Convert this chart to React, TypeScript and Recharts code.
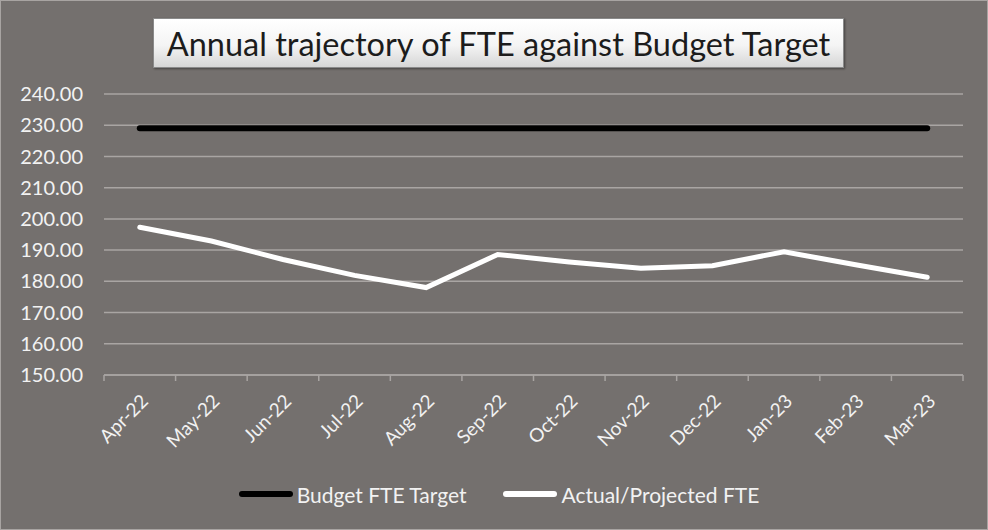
import { LineChart, Line, XAxis, YAxis, CartesianGrid, Legend } from 'recharts';

const months = ['Apr-22', 'May-22', 'Jun-22', 'Jul-22', 'Aug-22', 'Sep-22', 'Oct-22', 'Nov-22', 'Dec-22', 'Jan-23', 'Feb-23', 'Mar-23'];
const budgetTarget = [229, 229, 229, 229, 229, 229, 229, 229, 229, 229, 229, 229];
const actualProjected = [197.3, 192.9, 187.0, 181.9, 178.0, 188.6, 186.2, 184.2, 185.0, 189.5, 185.3, 181.3];
const yTicks = [150, 160, 170, 180, 190, 200, 210, 220, 230, 240];

const data = months.map((m, i) => ({
  month: m,
  idx: i,
  budget: budgetTarget[i],
  actual: actualProjected[i]
}));

const xDomain = [-0.5, months.length - 0.5];
const centerTicks = months.map((_, i) => i);
// boundaries between categories, where Excel puts its tick marks
const boundaryTicks = [...months.map((_, i) => i - 0.5), months.length - 0.5];

const BG = '#74706e';
const GRID = '#a9a5a3';
const TEXT = '#f2f2f2';
const FONT = 'Lato, "Open Sans", sans-serif';

const legendItems = [
  { label: 'Budget FTE Target', color: '#000000' },
  { label: 'Actual/Projected FTE', color: '#ffffff' }
];

const LegendContent = () => (
  <div style={{ display: 'flex', justifyContent: 'center', gap: 37, height: 50, paddingTop: 4, paddingLeft: 34, boxSizing: 'border-box' }}>
    {legendItems.map((it) => (
      <div key={it.label} style={{ display: 'flex', alignItems: 'center', height: 22 }}>
        <span style={{ display: 'inline-block', width: 54, height: 6, borderRadius: 3, background: it.color, marginRight: 4 }} />
        <span style={{ color: TEXT, fontSize: 21, fontFamily: FONT }}>{it.label}</span>
      </div>
    ))}
  </div>
);

export default function App() {
  return (
    <div style={{ position: 'absolute', left: 0, top: 0, width: 988, height: 530, background: BG, border: '1px solid #a8a4a2', boxSizing: 'border-box', overflow: 'hidden' }}>
      <div
        style={{
          position: 'absolute', left: 152, top: 17, width: 691, height: 50, boxSizing: 'border-box',
          background: 'linear-gradient(#ffffff 0%, #f4f4f4 55%, #d6d6d6 100%)',
          border: '1px solid #8a8a8a', boxShadow: '1px 1px 2px rgba(0,0,0,0.4)',
          display: 'flex', alignItems: 'center', justifyContent: 'center',
          fontFamily: FONT, fontSize: 32.5, color: '#1c1c1c', zIndex: 2
        }}
      >
        Annual trajectory of FTE against Budget Target
      </div>
      <LineChart width={986} height={528} data={data} margin={{ top: 93, right: 24, left: 0, bottom: 0 }} style={{ fontFamily: FONT }}>
        <CartesianGrid xAxisId="b" vertical={false} stroke={GRID} strokeWidth={1.5} />
        <XAxis
          xAxisId="b"
          type="number"
          dataKey="idx"
          domain={xDomain}
          ticks={centerTicks}
          tickFormatter={(v: number) => months[v] ?? ''}
          interval={0}
          axisLine={false}
          tickLine={false}
          tickSize={0}
          tickMargin={12}
          angle={-45}
          textAnchor="end"
          height={98}
          tick={{ fill: TEXT, fontSize: 19 }}
        />
        <XAxis
          xAxisId="a"
          type="number"
          dataKey="idx"
          domain={xDomain}
          ticks={boundaryTicks}
          interval={0}
          tickFormatter={() => ''}
          stroke={GRID}
          strokeWidth={1.5}
          tickSize={6}
          height={6}
        />
        <YAxis
          domain={[150, 240]}
          ticks={yTicks}
          width={103}
          axisLine={false}
          tickLine={false}
          tickMargin={15}
          tickFormatter={(v: number) => v.toFixed(2)}
          tick={{ fill: TEXT, fontSize: 20 }}
        />
        <Legend verticalAlign="bottom" content={<LegendContent />} wrapperStyle={{ height: 50 }} />
        <Line xAxisId="b" type="linear" dataKey="budget" name="Budget FTE Target" stroke="#000000" strokeWidth={6} strokeLinecap="round" dot={false} isAnimationActive={false} />
        <Line xAxisId="b" type="linear" dataKey="actual" name="Actual/Projected FTE" stroke="#ffffff" strokeWidth={5} strokeLinecap="round" dot={false} isAnimationActive={false} />
      </LineChart>
    </div>
  );
}
